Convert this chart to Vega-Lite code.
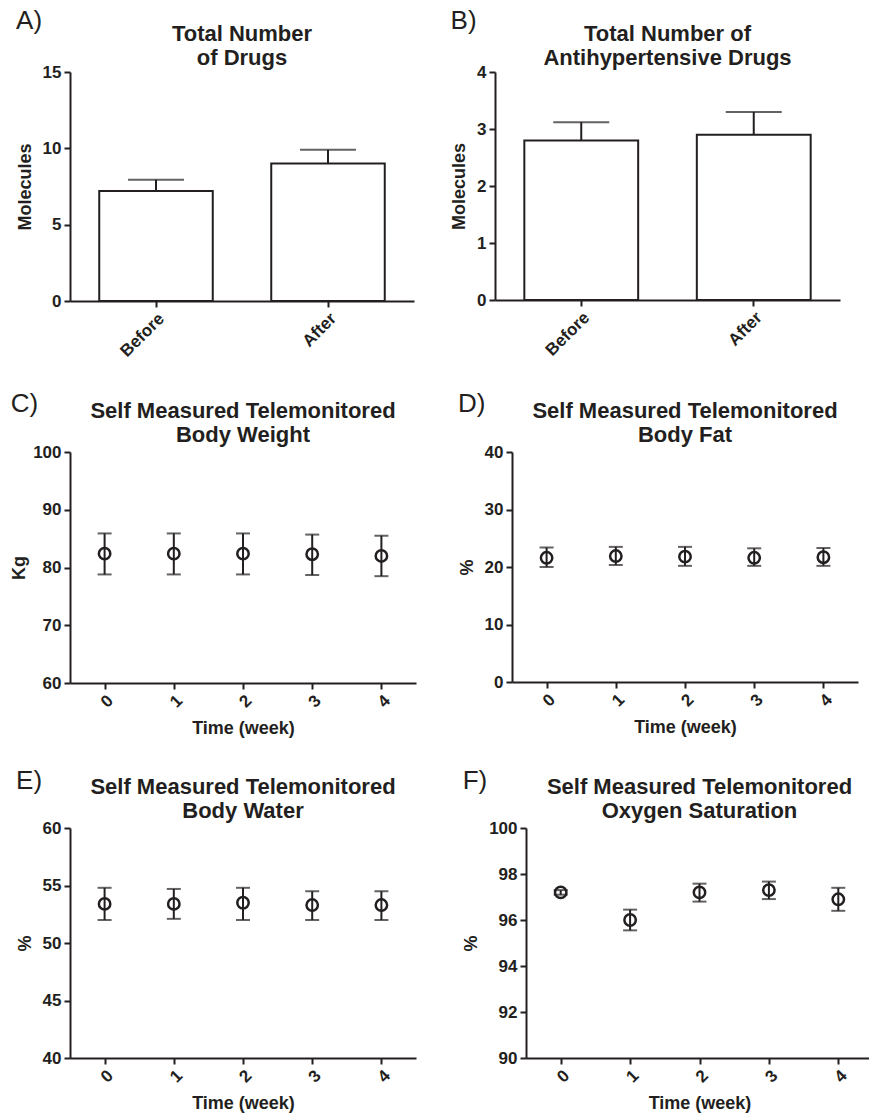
{
  "$schema": "https://vega.github.io/schema/vega-lite/v6.json",
  "padding": {"left": 10, "top": 8, "right": 0, "bottom": 0},
  "background": "white",
  "datasets": {
    "drugs": [
      {"period": "Before", "mean": 7.2, "upper": 7.95},
      {"period": "After", "mean": 9.0, "upper": 9.9}
    ],
    "antihyp": [
      {"period": "Before", "mean": 2.8, "upper": 3.12},
      {"period": "After", "mean": 2.9, "upper": 3.3}
    ],
    "weight": [
      {"week": 0, "mean": 82.4, "lower": 78.8, "upper": 85.9},
      {"week": 1, "mean": 82.4, "lower": 78.8, "upper": 85.9},
      {"week": 2, "mean": 82.4, "lower": 78.8, "upper": 85.9},
      {"week": 3, "mean": 82.3, "lower": 78.7, "upper": 85.7},
      {"week": 4, "mean": 82.0, "lower": 78.5, "upper": 85.5}
    ],
    "fat": [
      {"week": 0, "mean": 21.6, "lower": 20.0, "upper": 23.4},
      {"week": 1, "mean": 21.9, "lower": 20.35, "upper": 23.5},
      {"week": 2, "mean": 21.8, "lower": 20.2, "upper": 23.5},
      {"week": 3, "mean": 21.6, "lower": 20.2, "upper": 23.25},
      {"week": 4, "mean": 21.7, "lower": 20.2, "upper": 23.3}
    ],
    "water": [
      {"week": 0, "mean": 53.4, "lower": 52.0, "upper": 54.8},
      {"week": 1, "mean": 53.4, "lower": 52.1, "upper": 54.7},
      {"week": 2, "mean": 53.5, "lower": 52.0, "upper": 54.8},
      {"week": 3, "mean": 53.3, "lower": 52.0, "upper": 54.5},
      {"week": 4, "mean": 53.3, "lower": 52.0, "upper": 54.5}
    ],
    "oxygen": [
      {"week": 0, "mean": 97.2, "lower": 97.1, "upper": 97.3},
      {"week": 1, "mean": 96.0, "lower": 95.55, "upper": 96.45},
      {"week": 2, "mean": 97.2, "lower": 96.8, "upper": 97.58},
      {"week": 3, "mean": 97.3, "lower": 96.91, "upper": 97.67},
      {"week": 4, "mean": 96.9, "lower": 96.4, "upper": 97.4}
    ]
  },
  "columns": 1,
  "spacing": 31,
  "concat": [
    {
      "spacing": 36,
      "hconcat": [
        {
          "title": {"text": "A)", "anchor": "start", "frame": "bounds", "fontSize": 26, "fontWeight": "normal", "offset": -11},
          "vconcat": [
            {
              "width": 344, "height": 229,
              "title": {"text": ["Total Number", "of Drugs"], "offset": -7},
              "data": {"name": "drugs"},
              "encoding": {
                "x": {"field": "period", "type": "nominal", "sort": null, "title": null,
                      "scale": {"type": "band", "paddingInner": 0.34, "paddingOuter": 0.17},
                      "axis": {"labelAngle": -45}}
              },
              "layer": [
                {"mark": {"type": "bar", "fill": "white", "stroke": "#231f20", "strokeWidth": 2},
                 "encoding": {"y": {"field": "mean", "type": "quantitative", "title": "Molecules",
                   "scale": {"domain": [0, 15], "nice": false}, "axis": {"values": [0, 5, 10, 15], "format": "d"}}}},
                {"mark": {"type": "rule", "stroke": "#231f20", "strokeWidth": 2},
                 "encoding": {"y": {"field": "mean", "type": "quantitative"}, "y2": {"field": "upper"}}},
                {"mark": {"type": "tick", "color": "#231f20", "thickness": 2, "size": 56},
                 "encoding": {"y": {"field": "upper", "type": "quantitative"}}}
              ]
            }
          ]
        },
        {
          "title": {"text": "B)", "anchor": "start", "frame": "bounds", "fontSize": 26, "fontWeight": "normal", "offset": -11},
          "vconcat": [
            {
              "width": 345, "height": 228,
              "title": {"text": ["Total Number of", "Antihypertensive Drugs"], "offset": -7},
              "data": {"name": "antihyp"},
              "encoding": {
                "x": {"field": "period", "type": "nominal", "sort": null, "title": null,
                      "scale": {"type": "band", "paddingInner": 0.34, "paddingOuter": 0.17},
                      "axis": {"labelAngle": -45}}
              },
              "layer": [
                {"mark": {"type": "bar", "fill": "white", "stroke": "#231f20", "strokeWidth": 2},
                 "encoding": {"y": {"field": "mean", "type": "quantitative", "title": "Molecules",
                   "scale": {"domain": [0, 4], "nice": false}, "axis": {"values": [0, 1, 2, 3, 4], "format": "d"}}}},
                {"mark": {"type": "rule", "stroke": "#231f20", "strokeWidth": 2},
                 "encoding": {"y": {"field": "mean", "type": "quantitative"}, "y2": {"field": "upper"}}},
                {"mark": {"type": "tick", "color": "#231f20", "thickness": 2, "size": 56},
                 "encoding": {"y": {"field": "upper", "type": "quantitative"}}}
              ]
            }
          ]
        }
      ]
    },
    {
      "columns": 1,
      "spacing": 30,
      "concat": [
        {
          "spacing": 42,
          "hconcat": [
            {
              "title": {"text": "C)", "anchor": "start", "frame": "bounds", "fontSize": 26, "fontWeight": "normal", "offset": -17},
              "vconcat": [
                {
                  "width": 346, "height": 231,
                  "title": {"text": ["Self Measured Telemonitored", "Body Weight"], "offset": -4},
                  "data": {"name": "weight"},
                  "encoding": {
                    "x": {"field": "week", "type": "ordinal", "title": "Time (week)",
                          "scale": {"type": "point", "padding": 0.5}, "axis": {"labelAngle": -45}}
                  },
                  "layer": [
                    {"mark": {"type": "rule", "stroke": "#231f20", "strokeWidth": 2},
                     "encoding": {"y": {"field": "lower", "type": "quantitative", "title": "Kg",
                       "scale": {"domain": [60, 100], "nice": false}, "axis": {"values": [60, 70, 80, 90, 100], "format": "d", "titlePadding": 4}},
                       "y2": {"field": "upper"}}},
                    {"mark": {"type": "tick", "color": "#231f20", "thickness": 2, "size": 14},
                     "encoding": {"y": {"field": "upper", "type": "quantitative"}}},
                    {"mark": {"type": "tick", "color": "#231f20", "thickness": 2, "size": 14},
                     "encoding": {"y": {"field": "lower", "type": "quantitative"}}},
                    {"mark": {"type": "point", "shape": "circle", "filled": false, "stroke": "#231f20", "strokeWidth": 2.5, "size": 130, "opacity": 1},
                     "encoding": {"y": {"field": "mean", "type": "quantitative"}}}
                  ]
                }
              ]
            },
            {
              "title": {"text": "D)", "anchor": "start", "frame": "bounds", "fontSize": 26, "fontWeight": "normal", "offset": -17},
              "vconcat": [
                {
                  "width": 346, "height": 230,
                  "title": {"text": ["Self Measured Telemonitored", "Body Fat"], "offset": -4},
                  "data": {"name": "fat"},
                  "encoding": {
                    "x": {"field": "week", "type": "ordinal", "title": "Time (week)",
                          "scale": {"type": "point", "padding": 0.5}, "axis": {"labelAngle": -45}}
                  },
                  "layer": [
                    {"mark": {"type": "rule", "stroke": "#231f20", "strokeWidth": 2},
                     "encoding": {"y": {"field": "lower", "type": "quantitative", "title": "%",
                       "scale": {"domain": [0, 40], "nice": false}, "axis": {"values": [0, 10, 20, 30, 40], "format": "d"}},
                       "y2": {"field": "upper"}}},
                    {"mark": {"type": "tick", "color": "#231f20", "thickness": 2, "size": 14},
                     "encoding": {"y": {"field": "upper", "type": "quantitative"}}},
                    {"mark": {"type": "tick", "color": "#231f20", "thickness": 2, "size": 14},
                     "encoding": {"y": {"field": "lower", "type": "quantitative"}}},
                    {"mark": {"type": "point", "shape": "circle", "filled": false, "stroke": "#231f20", "strokeWidth": 2.5, "size": 130, "opacity": 1},
                     "encoding": {"y": {"field": "mean", "type": "quantitative"}}}
                  ]
                }
              ]
            }
          ]
        },
        {
          "spacing": 46,
          "hconcat": [
            {
              "title": {"text": "E)", "anchor": "start", "frame": "bounds", "fontSize": 26, "fontWeight": "normal", "offset": -18},
              "vconcat": [
                {
                  "width": 346, "height": 230,
                  "title": {"text": ["Self Measured Telemonitored", "Body Water"], "offset": -4},
                  "data": {"name": "water"},
                  "encoding": {
                    "x": {"field": "week", "type": "ordinal", "title": "Time (week)",
                          "scale": {"type": "point", "padding": 0.5}, "axis": {"labelAngle": -45}}
                  },
                  "layer": [
                    {"mark": {"type": "rule", "stroke": "#231f20", "strokeWidth": 2},
                     "encoding": {"y": {"field": "lower", "type": "quantitative", "title": "%",
                       "scale": {"domain": [40, 60], "nice": false}, "axis": {"values": [40, 45, 50, 55, 60], "format": "d"}},
                       "y2": {"field": "upper"}}},
                    {"mark": {"type": "tick", "color": "#231f20", "thickness": 2, "size": 14},
                     "encoding": {"y": {"field": "upper", "type": "quantitative"}}},
                    {"mark": {"type": "tick", "color": "#231f20", "thickness": 2, "size": 14},
                     "encoding": {"y": {"field": "lower", "type": "quantitative"}}},
                    {"mark": {"type": "point", "shape": "circle", "filled": false, "stroke": "#231f20", "strokeWidth": 2.5, "size": 130, "opacity": 1},
                     "encoding": {"y": {"field": "mean", "type": "quantitative"}}}
                  ]
                }
              ]
            },
            {
              "title": {"text": "F)", "anchor": "start", "frame": "bounds", "fontSize": 26, "fontWeight": "normal", "offset": -18},
              "vconcat": [
                {
                  "width": 347, "height": 230,
                  "title": {"text": ["Self Measured Telemonitored", "Oxygen Saturation"], "offset": -4},
                  "data": {"name": "oxygen"},
                  "encoding": {
                    "x": {"field": "week", "type": "ordinal", "title": "Time (week)",
                          "scale": {"type": "point", "padding": 0.5}, "axis": {"labelAngle": -45}}
                  },
                  "layer": [
                    {"mark": {"type": "rule", "stroke": "#231f20", "strokeWidth": 2},
                     "encoding": {"y": {"field": "lower", "type": "quantitative", "title": "%",
                       "scale": {"domain": [90, 100], "nice": false}, "axis": {"values": [90, 92, 94, 96, 98, 100], "format": "d"}},
                       "y2": {"field": "upper"}}},
                    {"mark": {"type": "tick", "color": "#231f20", "thickness": 2, "size": 14},
                     "encoding": {"y": {"field": "upper", "type": "quantitative"}}},
                    {"mark": {"type": "tick", "color": "#231f20", "thickness": 2, "size": 14},
                     "encoding": {"y": {"field": "lower", "type": "quantitative"}}},
                    {"mark": {"type": "point", "shape": "circle", "filled": false, "stroke": "#231f20", "strokeWidth": 2.5, "size": 130, "opacity": 1},
                     "encoding": {"y": {"field": "mean", "type": "quantitative"}}}
                  ]
                }
              ]
            }
          ]
        }
      ]
    }
  ],
  "config": {
    "font": "Liberation Sans",
    "view": {"stroke": null},
    "axis": {
      "grid": false,
      "domainColor": "#231f20", "domainWidth": 2,
      "tickColor": "#231f20", "tickWidth": 2, "tickSize": 6,
      "labelFont": "Liberation Sans", "labelFontSize": 17, "labelFontWeight": "bold", "labelColor": "#231f20", "labelPadding": 3,
      "titleFont": "Liberation Sans", "titleFontSize": 18, "titleFontWeight": "bold", "titleColor": "#231f20", "titlePadding": 8
    },
    "axisX": {"titlePadding": 10},
    "title": {"font": "Liberation Sans", "fontSize": 22, "fontWeight": "bold", "color": "#231f20", "lineHeight": 24}
  }
}
